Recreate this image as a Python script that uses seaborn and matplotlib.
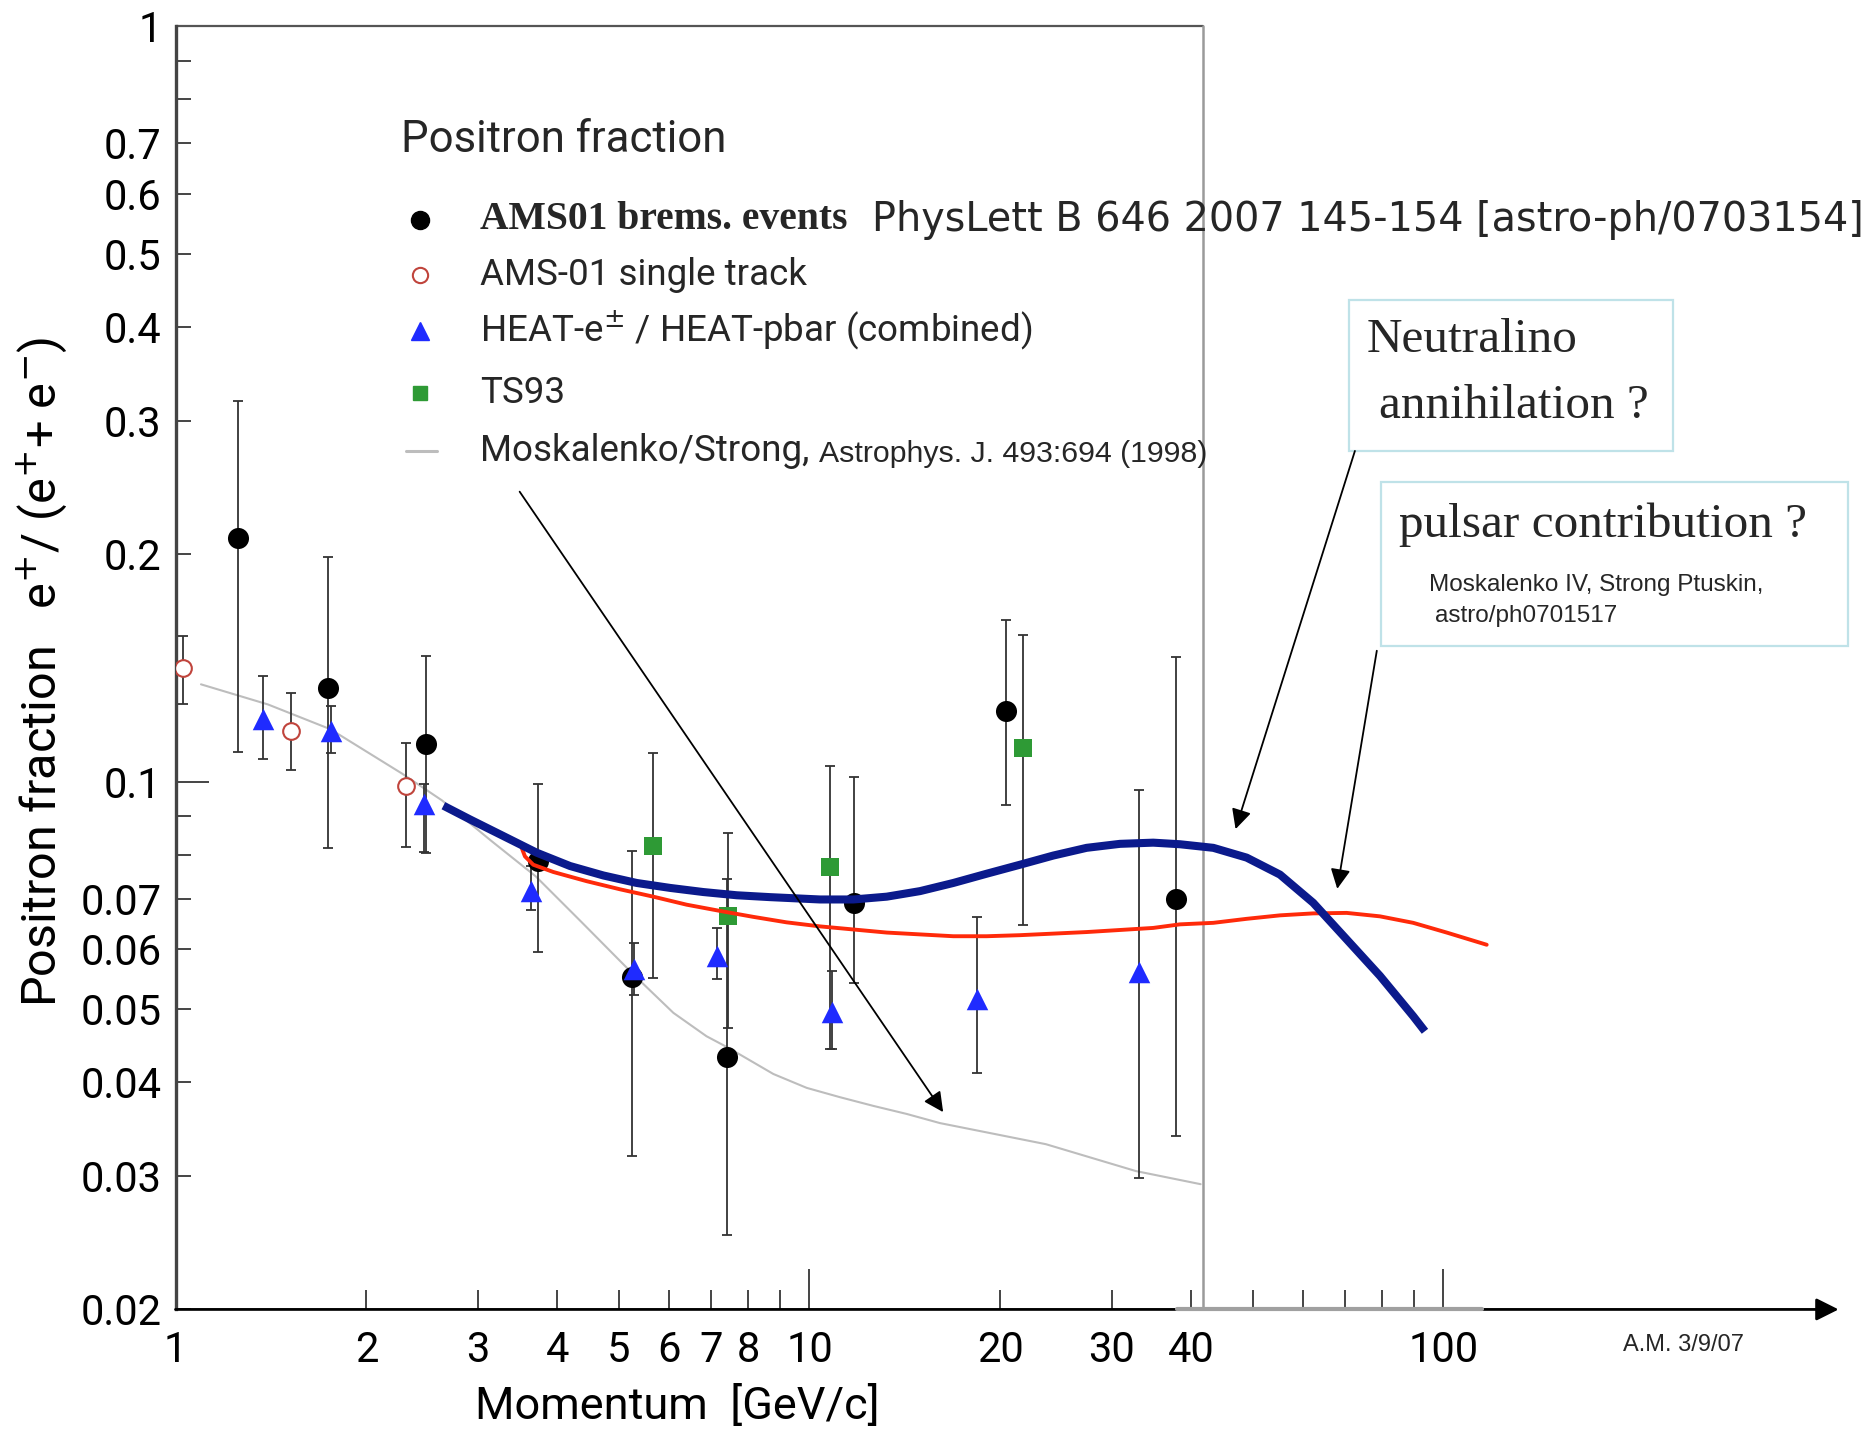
import numpy as np
import pandas as pd
import matplotlib
matplotlib.use("Agg")
import matplotlib.pyplot as plt
import seaborn as sns
from matplotlib.ticker import FixedLocator, FixedFormatter
from matplotlib.patches import Rectangle

# ---------------- data ----------------
# AMS01 bremsstrahlung events
ams_brems_x = [1.253, 1.742, 2.486, 3.736, 5.24, 7.41, 11.74, 20.45, 37.9]
ams_brems_y = [0.210, 0.133, 0.112, 0.0784, 0.0551, 0.0432, 0.069, 0.124, 0.070]
ams_brems_lo = [0.1095, 0.0816, 0.0804, 0.0594, 0.0319, 0.0251, 0.0541, 0.093, 0.0339]
ams_brems_hi = [0.319, 0.198, 0.1466, 0.0993, 0.0809, 0.0742, 0.1015, 0.1635, 0.146]

# AMS-01 single track
ams_single_x = [1.026, 1.523, 2.31]
ams_single_y = [0.1413, 0.1165, 0.0986]
ams_single_lo = [0.1267, 0.1035, 0.0819]
ams_single_hi = [0.156, 0.1309, 0.1126]

# HEAT combined
heat_x = [1.372, 1.757, 2.465, 3.64, 5.28, 7.16, 10.86, 18.35, 33.1]
heat_y = [0.121, 0.1168, 0.0933, 0.0716, 0.0565, 0.0588, 0.0496, 0.0516, 0.0559]
heat_lo = [0.107, 0.109, 0.0806, 0.0676, 0.0521, 0.0548, 0.0442, 0.0411, 0.0299]
heat_hi = [0.138, 0.126, 0.0994, 0.0772, 0.0612, 0.0639, 0.0561, 0.0661, 0.0975]

# TS93
ts93_x = [5.67, 7.45, 10.76, 21.7]
ts93_y = [0.0821, 0.0663, 0.077, 0.1107]
ts93_lo = [0.0549, 0.0471, 0.0442, 0.0646]
ts93_hi = [0.1092, 0.0854, 0.105, 0.1563]

# Moskalenko/Strong model (grey)
model_x = [1.097, 1.399, 1.755, 2.275, 2.633, 3.146, 3.70, 4.35, 5.28, 6.10, 6.88, 7.45,
           7.77, 8.77, 9.90, 11.17, 12.61, 14.23, 16.06, 23.6, 32.7, 41.4]
model_y = [0.1345, 0.1265, 0.1173, 0.1025, 0.0944, 0.0835, 0.0749, 0.0654, 0.0555, 0.0494,
           0.0460, 0.0444, 0.0435, 0.0410, 0.0393, 0.0382, 0.0372, 0.0363, 0.0353, 0.0331,
           0.0305, 0.0293]

# Neutralino annihilation curve (navy)
neutralino_x = [2.646, 2.914, 3.289, 3.713, 4.19, 4.73, 5.34, 6.03, 6.80, 7.68, 8.66, 10.39,
                11.73, 13.24, 14.94, 16.86, 19.03, 21.48, 24.24, 27.36, 30.88, 34.85, 38.4,
                43.35, 48.93, 55.22, 62.3, 70.36, 79.4, 89.6, 93.5]
neutralino_y = [0.0929, 0.0891, 0.0847, 0.0805, 0.0773, 0.0751, 0.0734, 0.0723, 0.0714, 0.0707,
                0.0703, 0.0698, 0.0698, 0.0704, 0.0716, 0.0734, 0.0755, 0.0776, 0.0798, 0.0817,
                0.0827, 0.0830, 0.0826, 0.0817, 0.0793, 0.0753, 0.0691, 0.0618, 0.0553, 0.0489,
                0.0467]

# Pulsar contribution curve (red)
pulsar_x = [3.516, 3.558, 3.667, 3.944, 4.452, 5.025, 5.67, 6.40, 7.23, 8.15, 9.20, 10.39,
            13.24, 16.86, 19.03, 21.48, 27.36, 34.85, 38.4, 43.35, 48.93, 55.22, 62.3, 70.36,
            79.4, 89.6, 101.2, 117.0]
pulsar_y = [0.0817, 0.0796, 0.0776, 0.0759, 0.0738, 0.0720, 0.0704, 0.0687, 0.0674, 0.0662,
            0.0651, 0.0643, 0.0631, 0.0624, 0.0624, 0.0626, 0.0632, 0.0640, 0.0647, 0.0650,
            0.0658, 0.0665, 0.0669, 0.0670, 0.0663, 0.0650, 0.0631, 0.0608]

# ticks
ytick_major = [0.1, 1.0]
ytick_major_labels = ["0.1", "1"]
ytick_minor = [0.02, 0.03, 0.04, 0.05, 0.06, 0.07, 0.08, 0.09,
               0.2, 0.3, 0.4, 0.5, 0.6, 0.7, 0.8, 0.9]
ytick_minor_labels = ["0.02", "0.03", "0.04", "0.05", "0.06", "0.07", "", "",
                      "0.2", "0.3", "0.4", "0.5", "0.6", "0.7", "", ""]
xtick_major = [1, 10, 100]
xtick_major_labels = ["1", "10", "100"]
xtick_minor = [2, 3, 4, 5, 6, 7, 8, 9, 20, 30, 40, 50, 60, 70, 80, 90]
xtick_minor_labels = ["2", "3", "4", "5", "6", "7", "8", "", "20", "30", "40",
                      "", "", "", "", ""]

# ---------------- style ----------------
sns.set_theme(style="white")
SANS = ["Roboto", "DejaVu Sans"]
SERIF = ["Liberation Serif", "DejaVu Serif"]
ARIAL = ["Liberation Sans", "DejaVu Sans"]
plt.rcParams["font.family"] = SANS
plt.rcParams["mathtext.fontset"] = "dejavusans"

C_BLACK = "#000000"
C_RED_OPEN = "#c0443c"
C_BLUE = "#1f2bff"
C_GREEN = "#2e9a35"
C_GREY = "#bdbdbd"
C_NAVY = "#0b1a8c"
C_RED = "#ff2a0a"
C_ERR = "#333333"
C_BOX = "#bfe2e8"

fig = plt.figure(figsize=(18.72, 14.30), dpi=100)
ax = fig.add_axes([0.09375, 0.08431, 0.8884, 0.8973])
ax.set_xscale("log")
ax.set_yscale("log")
ax.set_xlim(1, 420)
ax.set_ylim(0.02, 1)
ax.set_facecolor("white")

FRAME_X_END = 41.7

# frame pieces of the original plot
ax.plot([1, FRAME_X_END], [1, 1], color="#555555", lw=1.6, clip_on=False, zorder=1)
ax.plot([FRAME_X_END, FRAME_X_END], [0.02, 1], color="#9a9a9a", lw=1.8, clip_on=False, zorder=1)

# model curve
sns.lineplot(x=model_x, y=model_y, sort=False, estimator=None, color=C_GREY, lw=1.5,
             ax=ax, zorder=1)

# error bars
def errs(x, y, lo, hi):
    y = np.asarray(y)
    ax.errorbar(x, y, yerr=[y - np.asarray(lo), np.asarray(hi) - y], fmt="none",
                ecolor=C_ERR, elinewidth=1.3, capsize=3.5, capthick=1.3, zorder=2)

errs(ams_brems_x, ams_brems_y, ams_brems_lo, ams_brems_hi)
errs(ams_single_x, ams_single_y, ams_single_lo, ams_single_hi)
errs(heat_x, heat_y, heat_lo, heat_hi)
errs(ts93_x, ts93_y, ts93_lo, ts93_hi)

# markers
sns.scatterplot(x=ams_brems_x, y=ams_brems_y, marker="o", s=230, color=C_BLACK,
                edgecolor=C_BLACK, linewidth=0, ax=ax, zorder=3, legend=False)
ax.plot(ams_single_x, ams_single_y, ls="none", marker="o", ms=12, mfc="white",
        mec=C_RED_OPEN, mew=1.5, zorder=3)
sns.scatterplot(x=heat_x, y=heat_y, marker="^", s=240, color=C_BLUE,
                edgecolor=C_BLUE, linewidth=0, ax=ax, zorder=3, legend=False)
sns.scatterplot(x=ts93_x, y=ts93_y, marker="s", s=160, color=C_GREEN,
                edgecolor=C_GREEN, linewidth=0, ax=ax, zorder=3, legend=False)

# theory curves
sns.lineplot(x=pulsar_x, y=pulsar_y, sort=False, estimator=None, color=C_RED, lw=2.8,
             ax=ax, zorder=4)
sns.lineplot(x=neutralino_x, y=neutralino_y, sort=False, estimator=None, color=C_NAVY,
             lw=5.8, ax=ax, zorder=5, solid_capstyle="butt", solid_joinstyle="round")

# ---------------- axes styling ----------------
for s in ["top", "right", "bottom"]:
    ax.spines[s].set_visible(False)
ax.spines["left"].set_color("#444444")
ax.spines["left"].set_linewidth(2.4)

ax.yaxis.set_major_locator(FixedLocator(ytick_major))
ax.yaxis.set_major_formatter(FixedFormatter(ytick_major_labels))
ax.yaxis.set_minor_locator(FixedLocator(ytick_minor))
ax.yaxis.set_minor_formatter(FixedFormatter(ytick_minor_labels))
ax.xaxis.set_major_locator(FixedLocator(xtick_major))
ax.xaxis.set_major_formatter(FixedFormatter(xtick_major_labels))
ax.xaxis.set_minor_locator(FixedLocator(xtick_minor))
ax.xaxis.set_minor_formatter(FixedFormatter(xtick_minor_labels))

ax.tick_params(axis="both", which="both", direction="in", left=True, bottom=True,
               colors="#444444", labelcolor="black", labelsize=30, width=1.4)
ax.tick_params(axis="y", which="major", length=24, pad=10)
ax.tick_params(axis="y", which="minor", length=11, pad=10)
ax.tick_params(axis="x", which="major", length=29, pad=15)
ax.tick_params(axis="x", which="minor", length=14, pad=15)

# x axis line with arrow
ax.annotate("", xy=(1.0, 0.0), xytext=(0.0, 0.0), xycoords="axes fraction",
            textcoords="axes fraction",
            arrowprops=dict(arrowstyle="-|>", color="black", lw=2.0, mutation_scale=34,
                            shrinkA=0, shrinkB=0), zorder=6, annotation_clip=False)
ax.plot([38, 115], [0.02, 0.02], color="#a0a0a0", lw=3.0, clip_on=False, zorder=7)

ax.set_xlabel("Momentum  [GeV/c]", fontsize=32.5, color="black")
ax.xaxis.set_label_coords(0.3015, -0.0753)
ax.xaxis.label.set_va("center")
ax.set_ylabel(r"Positron fraction   e$^{+}$/ (e$^{+}$+ e$^{-}$)", fontsize=35, color="black")
ax.yaxis.set_label_coords(-0.0804, 0.497)
ax.yaxis.label.set_va("center")
ax.yaxis.label.set_ha("center")

# ---------------- legend (drawn manually, as in the reference) ----------------
T = ax.transAxes
ax.text(0.1357, 0.9116, "Positron fraction", transform=T, fontsize=31.5,
        va="center", ha="left")
mx, tx = 0.1472, 0.1831
rows = [0.8493, 0.8065, 0.7628, 0.7144, 0.6688]
ax.plot([mx], [rows[0]], transform=T, marker="o", ms=13, color=C_BLACK, ls="none", clip_on=False)
ax.plot([mx], [rows[1]], transform=T, marker="o", ms=11, mfc="white", mec=C_RED_OPEN,
        mew=1.5, ls="none", clip_on=False)
ax.plot([mx], [rows[2]], transform=T, marker="^", ms=13, color=C_BLUE, ls="none", clip_on=False)
ax.plot([mx], [rows[3]], transform=T, marker="s", ms=10, color=C_GREEN, ls="none", clip_on=False)
ax.plot([0.1386, 0.1572], [rows[4], rows[4]], transform=T, color=C_GREY, lw=2.2, clip_on=False)

ax.text(tx, rows[0], "AMS01 brems. events", transform=T, fontsize=28.5, fontweight="bold",
        family=SERIF, va="center", ha="left")
ax.text(0.4185, rows[0], "PhysLett B 646 2007 145-154 [astro-ph/0703154]", transform=T,
        fontsize=28.6, family=["DejaVu Sans"], va="center", ha="left", clip_on=False)
ax.text(tx, rows[1], "AMS-01 single track", transform=T, fontsize=26.5, va="center", ha="left")
ax.text(tx, rows[2], "HEAT-e$^{\\pm}$ / HEAT-pbar (combined)", transform=T, fontsize=26.5,
        va="center", ha="left")
ax.text(tx, rows[3], "TS93", transform=T, fontsize=26.5, va="center", ha="left")
ax.text(tx, rows[4], "Moskalenko/Strong,", transform=T, fontsize=26.5, va="center", ha="left")
ax.text(0.3869, rows[4] - 0.002, "Astrophys. J. 493:694 (1998)", transform=T, fontsize=21.8,
        family=ARIAL, va="center", ha="left")

# ---------------- annotation boxes ----------------
ax.add_patch(Rectangle((0.7057, 0.6688), 0.1948, 0.1182, transform=T, fill=True,
                       facecolor="white", edgecolor=C_BOX, lw=1.6, clip_on=False, zorder=6))
ax.text(0.7164, 0.7553, "Neutralino", transform=T, fontsize=35.5,
        family=SERIF, va="center", ha="left", zorder=7)
ax.text(0.7236, 0.7042, "annihilation ?", transform=T, fontsize=35.5,
        family=SERIF, va="center", ha="left", zorder=7)

ax.add_patch(Rectangle((0.7251, 0.5172), 0.2806, 0.1275, transform=T, fill=True,
                       facecolor="white", edgecolor=C_BOX, lw=1.6, clip_on=False, zorder=6))
ax.text(0.7358, 0.6112, "pulsar contribution ?", transform=T, fontsize=35.5,
        family=SERIF, va="center", ha="left", zorder=7)
ax.text(0.7538, 0.5647, "Moskalenko IV, Strong Ptuskin,", transform=T, fontsize=17.5,
        family=ARIAL, va="center", ha="left", zorder=7)
ax.text(0.7574, 0.5405, "astro/ph0701517", transform=T, fontsize=17.5,
        family=ARIAL, va="center", ha="left", zorder=7)

ax.text(0.9067, -0.0279, "A.M. 3/9/07", transform=T, fontsize=17,
        family=ARIAL, va="center", ha="center")

# ---------------- arrows ----------------
ARROWS = [((3.49, 0.242), (16.25, 0.0365)),
          ((72.5, 0.274), (47.0, 0.0865)),
          ((78.5, 0.149), (68.0, 0.0721))]
for start, end in ARROWS:
    ax.annotate("", xy=end, xytext=start,
                arrowprops=dict(arrowstyle="-|>", color="black", lw=1.3, mutation_scale=30,
                                shrinkA=0, shrinkB=0), zorder=8, annotation_clip=False)

fig.savefig("out.png", dpi=100, facecolor="white")
